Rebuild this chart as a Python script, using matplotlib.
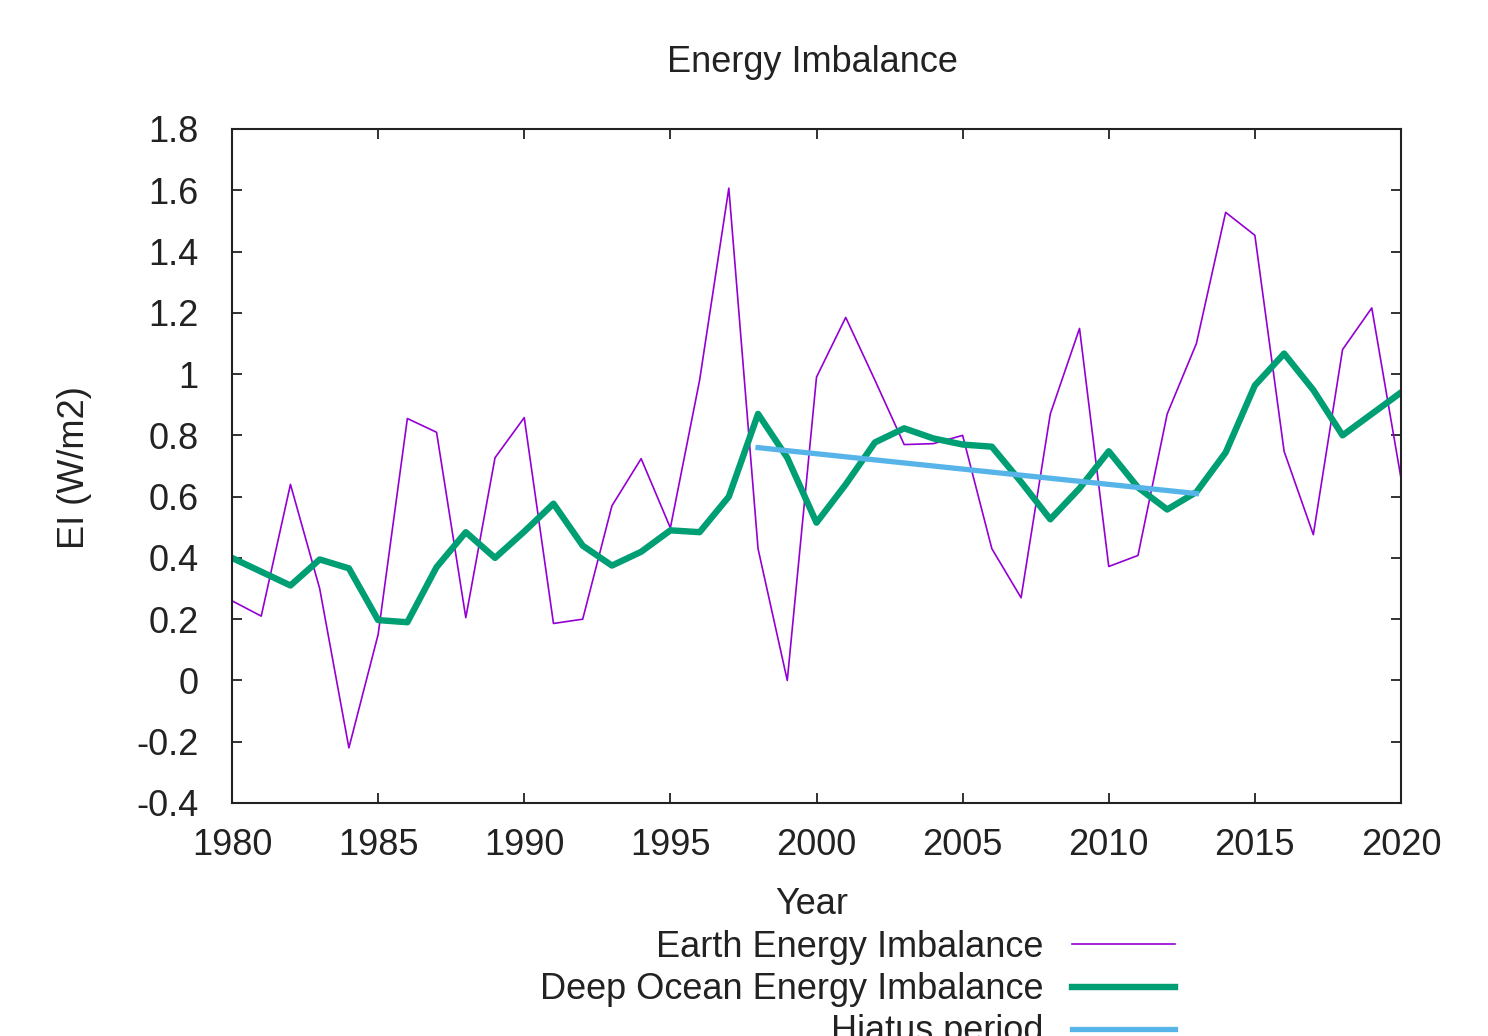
import matplotlib
matplotlib.use("Agg")
import matplotlib.pyplot as plt

plt.rcParams['font.family'] = ['Liberation Sans', 'DejaVu Sans']

years = list(range(1980, 2021))
earth_ei = [0.26, 0.21, 0.64, 0.30, -0.22, 0.15, 0.855, 0.81, 0.205, 0.727,
            0.858, 0.186, 0.20, 0.57, 0.724, 0.498, 0.98, 1.607, 0.43, 0.0,
            0.99, 1.185, 0.98, 0.77, 0.773, 0.80, 0.43, 0.27, 0.87, 1.149,
            0.372, 0.408, 0.87, 1.10, 1.528, 1.453, 0.748, 0.476, 1.08, 1.216,
            0.66]
deep_ocean_ei = [0.40, 0.355, 0.31, 0.395, 0.366, 0.197, 0.19, 0.37, 0.484, 0.40,
                 0.486, 0.577, 0.44, 0.375, 0.42, 0.49, 0.484, 0.60, 0.87, 0.727,
                 0.515, 0.64, 0.777, 0.823, 0.79, 0.77, 0.763, 0.648, 0.526, 0.627,
                 0.748, 0.63, 0.558, 0.615, 0.744, 0.963, 1.067, 0.948, 0.80, 0.87,
                 0.94]
hiatus_years = [1998, 2013]
hiatus_values = [0.76, 0.61]

xticks = [1980, 1985, 1990, 1995, 2000, 2005, 2010, 2015, 2020]
yticks = [-0.4, -0.2, 0, 0.2, 0.4, 0.6, 0.8, 1.0, 1.2, 1.4, 1.6, 1.8]
ytick_labels = ["-0.4", "-0.2", "0", "0.2", "0.4", "0.6", "0.8", "1", "1.2", "1.4", "1.6", "1.8"]

fig = plt.figure(figsize=(14.88, 10.36), dpi=100)
ax = fig.add_axes([232/1488, 1 - 803/1036, (1401-232)/1488, (803-129)/1036])

FS = 26
l1, = ax.plot(years, earth_ei, color='#9400d3', lw=1.2, label='Earth Energy Imbalance')
l2, = ax.plot(years, deep_ocean_ei, color='#009e73', lw=4.6, label='Deep Ocean Energy Imbalance')
l3, = ax.plot(hiatus_years, hiatus_values, color='#56b4e9', lw=3.8, label='Hiatus period')

ax.set_xlim(1980, 2020)
ax.set_ylim(-0.4, 1.8)
ax.set_xticks(xticks)
ax.set_xticklabels([str(x) for x in xticks])
ax.set_yticks(yticks)
ax.set_yticklabels(ytick_labels)
ax.tick_params(direction='in', length=7, width=1.3, top=True, right=True,
               labelsize=FS, colors='#222222')
ax.tick_params(axis='y', pad=24)
ax.tick_params(axis='x', pad=18)
for sp in ax.spines.values():
    sp.set_linewidth(1.5)
    sp.set_color('#222222')

fig.text(812/1488, 1 - 62/1036, 'Energy Imbalance', ha='center', va='center',
         fontsize=FS, color='#222222')
fig.text(812/1488, 1 - 904/1036, 'Year', ha='center', va='center',
         fontsize=FS, color='#222222')
fig.text(75/1488, 1 - 468/1036, 'EI (W/m2)', ha='center', va='center',
         rotation=90, fontsize=FS, color='#222222')

leg = fig.legend(handles=[l1, l2, l3], loc='upper right', markerfirst=False,
                 frameon=False, fontsize=FS, handlelength=2.85, handletextpad=0.8,
                 labelspacing=0.2, borderpad=0, borderaxespad=0,
                 bbox_to_anchor=(1175/1488, 1 - 930/1036))
for t in leg.get_texts():
    t.set_color('#222222')

fig.savefig('out.png', dpi=100)
